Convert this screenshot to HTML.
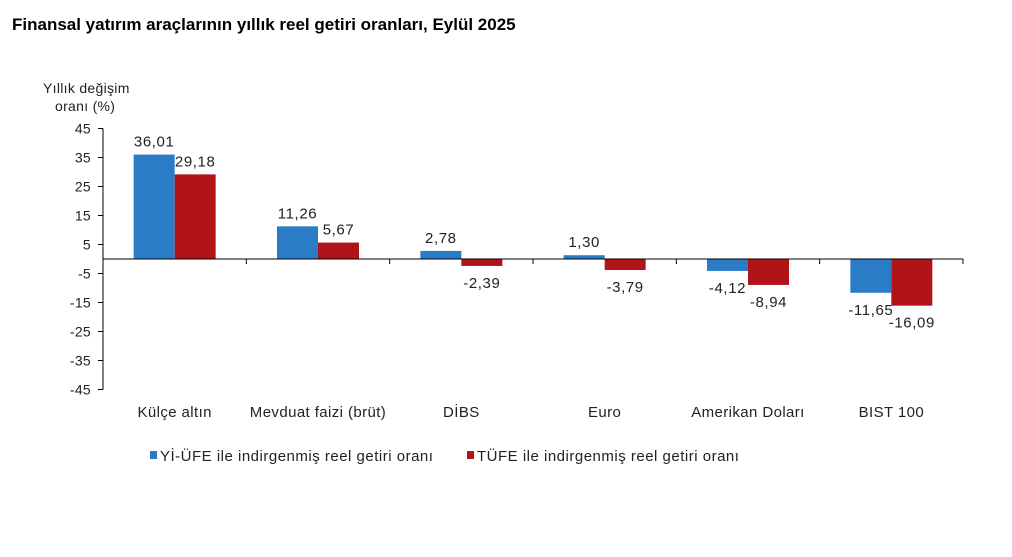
<!DOCTYPE html>
<html><head><meta charset="utf-8"><style>
body{margin:0;background:#fff;width:1012px;height:552px;overflow:hidden;font-family:"Liberation Sans",Arial,sans-serif}
</style></head><body>
<svg width="1012" height="552" font-family="Liberation Sans, Arial, sans-serif">
<text x="12" y="30" font-size="17" font-weight="bold" fill="#000">Finansal yatırım araçlarının yıllık reel getiri oranları, Eylül 2025</text>
<text x="43" y="93" font-size="14" letter-spacing="0.3" fill="#222">Yıllık değişim</text>
<text x="55" y="111" font-size="14" letter-spacing="0.3" fill="#222">oranı (%)</text>
<g id="g"></g>
</svg>
<script>
const categories=["Külçe altın","Mevduat faizi (brüt)","DİBS","Euro","Amerikan Doları","BIST 100"];
const yiufe=[36.01,11.26,2.78,1.30,-4.12,-11.65];
const tufe=[29.18,5.67,-2.39,-3.79,-8.94,-16.09];
const ticks=[45,35,25,15,5,-5,-15,-25,-35,-45];
const NS="http://www.w3.org/2000/svg",g=document.getElementById('g');
const x0=103,x1=963,y0=259,k=2.9;
const y=v=>y0-v*k;
const cw=(x1-x0)/categories.length;
function el(t,a,txt){const e=document.createElementNS(NS,t);for(const n in a)e.setAttribute(n,a[n]);if(txt!=null)e.textContent=txt;g.appendChild(e);return e;}
const ax=el('line',{x1:x0,y1:y(45),x2:x0,y2:y(-45),stroke:'#000'});


ticks.forEach(t=>{
 const l=el('line',{x1:x0-5,x2:x0,y1:y(t),y2:y(t),stroke:'#000'});
 
 
 const tx=el('text',{x:x0-12,y:y(t)+5,'text-anchor':'end','font-size':14,'letter-spacing':0.3,fill:'#222'},t);
 
 
});
const fmt=v=>v.toFixed(2).replace('.',',');
categories.forEach((c,i)=>{
 const cx=x0+cw*i+cw/2,bw=41;
 [[yiufe[i],'#2a7cc7',cx-bw],[tufe[i],'#b01419',cx]].forEach(([v,col,bx],j)=>{
  const top=Math.min(y(v),y0),h=Math.abs(y(v)-y0);
  const r=el('rect',{x:bx,y:top,width:bw,height:h,fill:col});
  
  
  const ly=v>=0?y(v)-8:y(v)+22;
  const t=el('text',{x:bx+bw/2,y:ly,'text-anchor':'middle','font-size':15,'letter-spacing':0.6,fill:'#222'},fmt(v));
  
  
 });
 const tl=el('line',{x1:x0+cw*(i+1),x2:x0+cw*(i+1),y1:y0,y2:y0+5,stroke:'#000'});
 
 
 const ct=el('text',{x:cx,y:417,'text-anchor':'middle','font-size':15,'letter-spacing':0.4,fill:'#222'},c);
 
 
});
const xa=el('line',{x1:x0,x2:x1,y1:y0,y2:y0,stroke:'#000'});


const legs=[['#2a7cc7','Yİ-ÜFE ile indirgenmiş reel getiri oranı',150],['#b01419','TÜFE ile indirgenmiş reel getiri oranı',467]];
legs.forEach(([col,txt,lx])=>{
 const r=el('rect',{x:lx,y:451,width:7,height:8,fill:col});
 
 
 const t=el('text',{x:lx+10,y:461,'font-size':15,'letter-spacing':0.5,fill:'#222'},txt);
 
 
});
</script>
</body></html>
